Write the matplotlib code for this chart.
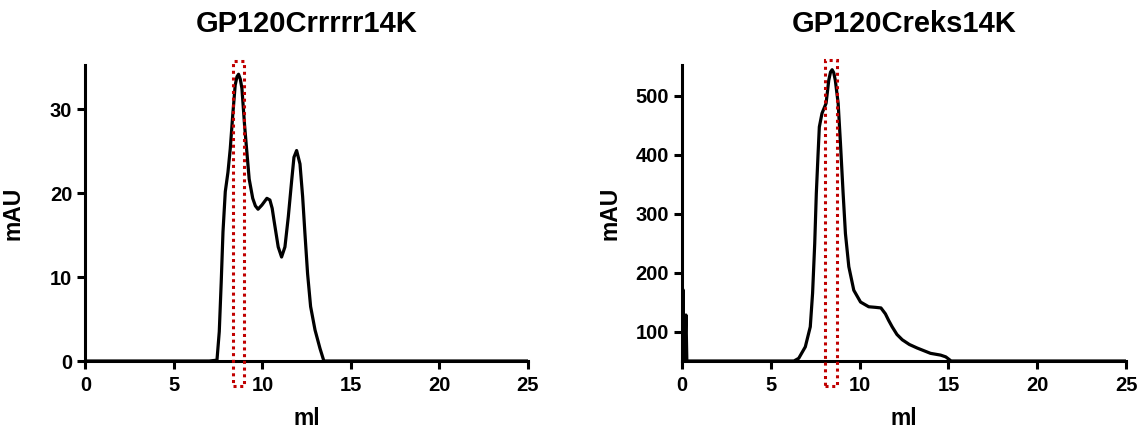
import numpy as np
import matplotlib
matplotlib.use("Agg")
import matplotlib.pyplot as plt
from matplotlib.patches import Rectangle

plt.rcParams['font.family'] = ['Liberation Sans', 'DejaVu Sans']
plt.rcParams['font.weight'] = 'bold'

# ---- left trace: GP120Crrrrr14K (ml, mAU) ----
left_title = "GP120Crrrrr14K"
left_ml = [0.0, 7.0, 7.43, 7.56, 7.67, 7.77, 7.9, 8.05, 8.18, 8.32, 8.46, 8.56,
           8.65, 8.75, 8.84, 8.99, 9.12, 9.25, 9.45, 9.6, 9.75, 9.97, 10.25,
           10.42, 10.55, 10.65, 10.89, 11.08, 11.27, 11.46, 11.65, 11.78,
           11.93, 12.12, 12.27, 12.4, 12.55, 12.72, 12.97, 13.25, 13.47,
           14.0, 25.0]
left_mau = [0.0, 0.0, 0.1, 3.5, 9.4, 15.4, 20.2, 22.5, 25.3, 29.3, 32.9, 33.9,
            34.2, 33.6, 32.5, 28.1, 24.9, 21.7, 19.4, 18.5, 18.1, 18.6, 19.4,
            19.2, 18.2, 16.8, 13.6, 12.4, 13.6, 17.2, 21.5, 24.3,
            25.1, 23.5, 19.6, 15.2, 10.4, 6.5, 3.7, 1.5, 0.0,
            0.0, 0.0]
left_box = (8.32, 8.98)       # highlighted fraction, ml
left_box_y = (-3.0, 35.75)
left_ylim = (0, 35.3)
left_yticks = [0, 10, 20, 30]

# ---- right trace: GP120Creks14K ----
right_title = "GP120Creks14K"
right_ml = [0.0, 0.05, 0.1, 0.14, 0.22, 0.27, 1.0, 6.3, 6.57, 6.94, 7.22, 7.35,
            7.47, 7.56, 7.66, 7.73, 7.88, 8.11, 8.26, 8.36, 8.45, 8.54, 8.63,
            8.79, 8.92, 9.07, 9.2, 9.39, 9.67, 10.05, 10.51, 10.89, 11.2,
            11.45, 11.63, 11.83, 12.1, 12.4, 12.8, 13.24, 13.99, 14.56, 14.85,
            15.15, 16.0, 25.0]
right_mau = [50, 171, 60, 50, 128, 50, 50, 50, 54.6, 74, 108, 165,
             249, 334, 402, 447, 470, 487, 526, 540, 544, 539, 526,
             487, 419, 334, 266, 210, 170, 150, 142, 141, 140,
             130, 119, 108, 95, 86, 78, 72, 63, 60, 57,
             50, 50, 50]
right_box = (8.04, 8.74)
right_box_y = (7.0, 561.0)
right_ylim = (50, 552)
right_yticks = [100, 200, 300, 400, 500]

xticks = [0, 5, 10, 15, 20, 25]

fig = plt.figure(figsize=(11.44, 4.29), dpi=100)
ax1 = fig.add_axes([0.0747, 0.1585, 0.3868, 0.69])
ax2 = fig.add_axes([0.5962, 0.1585, 0.3881, 0.69])

panels = [(ax1, left_title, left_ml, left_mau, left_box, left_box_y, left_ylim, left_yticks),
          (ax2, right_title, right_ml, right_mau, right_box, right_box_y, right_ylim, right_yticks)]

for ax, ttl, xs, ys, bx, by, yl, yt in panels:
    ax.plot(xs, ys, color='black', lw=2.3, solid_joinstyle='round')
    ax.set_xlim(0, 25)
    ax.set_ylim(*yl)
    ax.set_xticks(xticks)
    ax.set_yticks(yt)
    for s in ['top', 'right']:
        ax.spines[s].set_visible(False)
    for s in ['left', 'bottom']:
        ax.spines[s].set_linewidth(2.2)
    ax.tick_params(axis='both', which='major', length=5.5, width=2.2,
                   labelsize=14.5, direction='out')
    ax.tick_params(axis='y', pad=4)
    ax.tick_params(axis='x', pad=5)
    for lab in ax.get_xticklabels() + ax.get_yticklabels():
        lab.set_fontweight('bold')
    ax.set_title(ttl, fontsize=21, fontweight='bold', pad=24)
    ax.set_ylabel("mAU", fontsize=16.5, fontweight='bold')
    ax.set_xlabel("ml", fontsize=16.5, fontweight='bold')
    ax.yaxis.set_label_coords(-0.137, 0.5)
    ax.xaxis.set_label_coords(0.5, -0.155)
    rect = Rectangle((bx[0], by[0]), bx[1] - bx[0], by[1] - by[0], fill=False,
                     edgecolor='#C00000', lw=2.2, linestyle=(0, (1, 1.2)),
                     clip_on=False, zorder=5)
    ax.add_patch(rect)

fig.savefig("out.png", dpi=100)
